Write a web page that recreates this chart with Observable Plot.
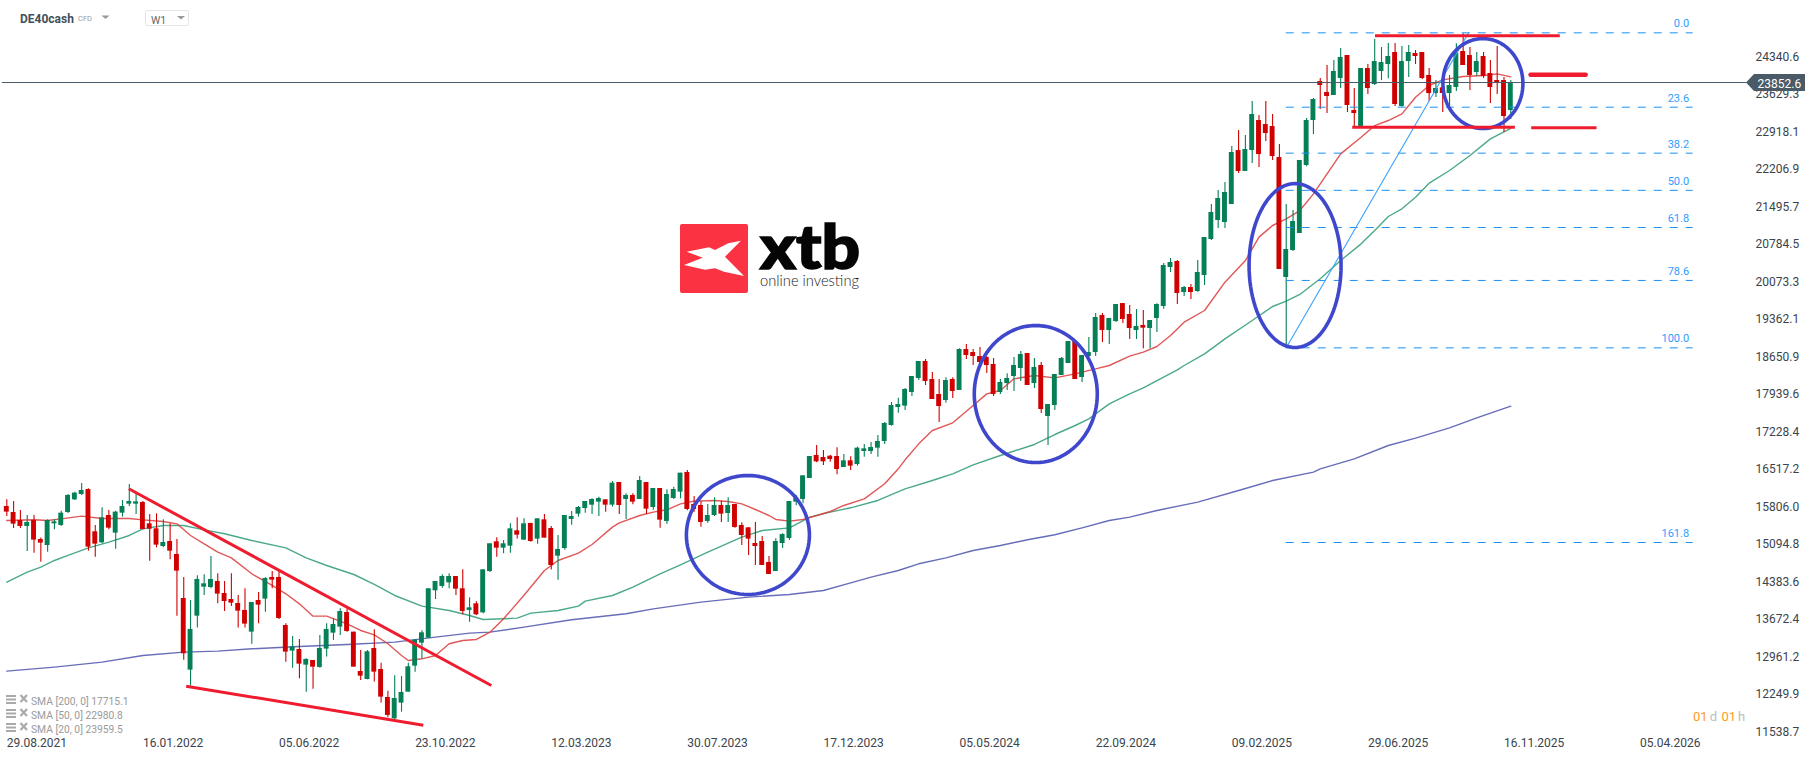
<!DOCTYPE html>
<html>
<head>
<meta charset="utf-8">
<style>html,body{margin:0;padding:0;background:#fff}svg{display:block}</style>
<script src="https://cdn.jsdelivr.net/npm/d3@7"></script>
<script src="https://cdn.jsdelivr.net/npm/@observablehq/plot@0.6"></script>
</head>
<body>
<div id="chart"></div>
<script>
const highs=[15938,15907,15736,15641,15641,15212,15559,15559,15723,16040,16084,16248,16147,15452,15787,15736,15723,15926,16229,16084,
15907,15660,15673,15559,15483,15186,14466,14029,14497,14516,14864,14535,14390,14535,14124,14251,13991,14181,14459,14579,
14586,13587,13347,13290,12923,12892,13366,13587,13682,13871,13871,13429,13081,13081,13473,12841,12310,12601,12588,12841,
13290,13454,14251,14390,14516,14535,14484,14611,14080,14004,14611,15104,15218,15167,15483,15597,15578,15496,15578,15660,
15433,15262,15641,15717,15812,15907,15957,15989,15938,16286,16267,16052,16052,16381,16267,16153,16153,16128,16179,16444,
16495,16002,15913,15850,15976,15913,15976,15850,15502,15407,15509,15243,14864,15199,15294,15907,16021,16393,16760,16969,
16874,16779,16924,16798,16754,16937,16988,17026,17158,17405,17784,17866,18050,18277,18562,18600,18353,18220,18252,18252,
18802,18884,18789,18827,18656,18619,18220,18328,18637,18751,18713,18619,18543,17746,18315,18637,18941,18941,18675,19017,
19472,19472,19377,19643,19661,19624,19548,19529,19339,19656,20420,20515,20477,19984,20022,20477,20913,21539,21805,21956,
22639,22942,22848,23492,23227,23492,23246,22677,21539,21425,22374,23170,23549,23929,24175,24270,24498,24365,23739,24119,
24194,24668,24517,24593,24593,24536,24555,24460,24422,24119,23891,23891,23986,24586,24776,24517,24422,24422,24270,24536,
23948,23891];
const opens=[15812,15698,15546,15433,15546,15186,15072,15483,15452,15698,15938,16040,16134,15332,15123,15641,15306,15685,15856,15856,
15888,15483,15388,15053,15148,14902,14067,12708,13732,14282,14276,14390,14162,14048,13972,13840,13429,14029,14055,14466,
14466,13555,13069,13100,12803,12892,12759,13107,13410,13524,13802,13429,12683,12531,13119,12721,12190,11785,12083,12291,
12784,13220,13315,14213,14295,14364,14484,14251,13840,13966,13795,14579,15142,15022,15060,15351,15174,15489,15193,15559,
15395,14870,15015,15566,15667,15774,15837,15894,15938,15837,16267,15945,16021,15945,16267,15793,16153,15528,15964,16084,
16457,15850,15831,15528,15641,15831,15679,15850,15452,15407,15110,15148,14750,14579,15110,15205,15894,15945,16343,16779,
16741,16766,16760,16551,16678,16608,16855,16855,16918,17045,17348,17689,17715,17974,18239,18562,18220,17936,17822,18220,
18012,18789,18732,18656,18637,18505,17974,18144,18277,18429,18713,18144,18486,17519,17727,18296,18524,18941,18258,18656,
18732,19434,19149,19320,19661,19453,19149,19245,19188,19377,19605,20344,20458,19870,19965,19889,20193,20875,21236,21198,
21539,22563,22165,22563,23132,23056,23018,22430,20155,20667,20989,22279,23132,23872,23663,23607,23929,24365,23322,23019,
24119,23815,24062,24194,24422,23398,24251,24403,24422,23986,23644,23752,23644,23758,24441,24365,24043,24346,24024,23891,
23891,23322];
const closes=[15705,15477,15433,15509,15174,15117,15546,15521,15685,16021,16065,16115,15041,15098,15597,15401,15705,15812,15907,15900,
15376,15382,15079,15129,14965,14586,13018,13480,14428,14345,14428,14150,14010,13979,13827,13581,13991,13941,14447,14415,
13688,13050,13151,12822,12911,12765,13119,13480,13574,13821,13442,12765,12594,13056,12670,12196,11849,12171,12285,12772,
13277,13416,14251,14390,14484,14484,14244,13821,13890,13758,14611,15104,15022,15104,15388,15268,15483,15148,15578,15212,
14693,14997,15641,15622,15793,15907,15945,15964,15837,16254,15831,16021,15894,16305,15761,16153,15553,16040,16134,16444,
15755,15755,15509,15641,15831,15667,15831,15414,15262,15193,15053,14693,14523,15148,15281,15907,15976,16393,16760,16659,
16659,16703,16514,16678,16577,16918,16905,16931,17045,17386,17727,17746,18031,18277,18562,18182,17841,17708,18201,17993,
18789,18675,18656,18543,18486,17936,18163,18239,18486,18694,18107,18448,17651,17746,18315,18619,18941,18220,18675,18732,
19396,19149,19377,19643,19358,19187,19225,19194,19339,19643,20382,20439,19851,19965,19870,20250,20913,21387,21653,21767,
22525,22165,22582,23246,22487,22886,22449,20307,20686,21217,22374,23132,23530,23796,23588,24062,24327,23417,23265,24119,
23739,24251,24232,24346,23436,24251,24422,24346,23929,23644,23739,23644,23796,24403,24175,23986,24251,23967,23758,23853,
23208,23852.6];
const lows=[15622,15395,15395,14959,14927,14756,14946,15369,15433,15679,15926,16021,14965,14851,15104,15369,15003,15610,15812,15660,
15369,14775,15028,15028,14801,13732,12898,12405,13505,14124,14251,13966,13821,13916,13505,13505,13201,13587,13808,14251,
13669,12860,12746,12544,12291,12348,12746,12955,13271,13366,13429,12765,12512,12525,12481,12083,11805,11754,11912,12291,
12670,12923,13315,14048,14263,14251,14124,13758,13618,13745,13777,14560,14851,14914,14927,15193,15167,15136,15098,15212,
14605,14415,14984,15458,15610,15685,15660,15622,15705,15799,15660,15566,15843,15945,15660,15742,15401,15477,15945,15957,
15730,15705,15420,15496,15622,15509,15509,15401,15072,14883,14693,14693,14523,14579,15015,15167,15825,15862,16343,16640,
16589,16653,16412,16551,16495,16577,16748,16798,16748,16988,17335,17582,17632,17898,18201,18107,17841,17405,17771,17860,
18012,18600,18486,18486,18334,17898,17936,18012,17993,18182,18107,18050,17576,16969,17632,18296,18524,18220,18163,18644,
18656,18922,18884,19301,19282,18979,18979,18802,18802,19112,19554,20250,19643,19795,19738,19870,20003,20857,21084,21084,
21539,22127,22165,22317,22241,22734,22374,20307,18821,20648,20989,22253,22867,23341,23265,23607,23739,23284,23019,23019,
23625,23796,23891,23923,23398,23385,23948,24194,23910,23493,23569,23284,23398,23682,24175,23701,23967,23929,23455,23625,
22905,23151];

const sma20Weeks=[0,4,6,8,11,14,18,20,23,25,27,29,31,33,36,39,41,43,45,47,50,52,54,56,58,59,61,63,65,67,69,71,73,76,79,81,84,86,89,90,93,95,97,99,101,104,106,108,110,112,113,115,117,119,121,123,126,129,131,132,134,136,139,142,144,146,148,151,154,157,160,162,165,167,169,171,173,176,179,182,184,186,188,190,192,194,196,199,201,203,205,207,209,211,214,217,219,221];
const sma20Values=[15546,15559,15546,15578,15629,15584,15584,15559,15528,15483,15262,15104,14946,14838,14535,14314,14156,13966,13732,13732,13587,13460,13378,13208,12986,12892,12923,12986,13208,13271,13290,13429,13682,14130,14598,14788,14927,15091,15420,15502,15641,15705,15749,15862,15913,15926,15907,15862,15755,15641,15566,15534,15566,15641,15717,15831,15957,16242,16526,16697,17000,17253,17399,17727,17948,18012,18233,18296,18252,18328,18423,18486,18663,18739,18846,19055,19308,19529,20066,20477,20920,21141,21267,21425,21741,22121,22500,22816,23037,23132,23258,23574,23796,23903,23966,23985,24017,23959.5];
const sma50Weeks=[0,3,5,7,9,12,15,18,20,23,26,29,32,36,41,44,47,51,54,57,61,65,68,70,75,77,81,84,85,89,92,96,99,103,108,111,115,118,121,124,128,132,136,139,142,146,151,154,157,159,162,165,167,172,173,176,179,183,186,188,190,193,196,199,201,203,205,207,209,212,215,218,221];
const sma50Values=[14377,14567,14661,14788,14883,15028,15136,15262,15388,15452,15452,15369,15294,15167,15028,14838,14693,14522,14333,14124,13922,13840,13745,13669,13694,13789,13840,13922,14017,14124,14282,14535,14706,14946,15230,15357,15407,15610,15704,15787,15926,16147,16305,16431,16602,16779,16988,17177,17348,17474,17759,17948,18062,18404,18486,18707,18992,19339,19605,19706,19833,20130,20477,20793,21046,21312,21457,21678,21944,22184,22468,22784,22980.8];
const sma200Weeks=[0,7,14,20,26,31,36,43,50,57,63,68,71,76,83,91,95,102,109,115,120,124,127,131,134,138,142,146,150,154,158,162,165,169,175,181,186,192,193,198,203,207,212,216,221];
const sma200Values=[12689,12765,12860,12986,13050,13069,13113,13157,13195,13239,13334,13410,13429,13524,13663,13777,13871,13998,14093,14143,14219,14364,14472,14598,14725,14838,14977,15072,15180,15275,15407,15546,15610,15736,15894,16115,16305,16463,16526,16716,16969,17108,17304,17493,17715.1];

const priceTicks=[24340.6,23629.3,22918.1,22206.9,21495.7,20784.5,20073.3,19362.1,18650.9,17939.6,17228.4,16517.2,15806.0,15094.8,14383.6,13672.4,12961.2,12249.9,11538.7];
const dateWeeks=[0,20,40,60,80,100,120,140,160,180,200,220,240];
const dateLabels=["29.08.2021","16.01.2022","05.06.2022","23.10.2022","12.03.2023","30.07.2023","17.12.2023","05.05.2024","22.09.2024","09.02.2025","29.06.2025","16.11.2025","05.04.2026"];
const lastPrice=23852.6;
const fibLabels=["0.0","23.6","38.2","50.0","61.8","78.6","100.0","161.8"];
const fibPrices=[24795,23385,22513,21808,21103,20099,18821,15129];
const redThin=[[17.93,16147.6,71.2,12417.6],[26.36,12404,61.2,11664],[201.05,24738,228.2,24738],[197.7,23005,221.6,23005],[224.0,22993.6,233.6,22993.6]];
const redThick=[[223.9,23998.6,232.0,23998.6]];
const fibDiagonal=[[188,18821],[214.8,24795]];
const ellipses=[[108.9,15271.5,9.04,1128],[151.2,17945,9.04,1299],[189.3,20382,6.76,1555],[216.9,23833.6,5.88,853]];
const legendRows=["SMA [200, 0] 17715.1","SMA [50, 0] 22980.8","SMA [20, 0] 23959.5"];

[opens,closes,lows].forEach(a=>{if(a.length!==highs.length)throw new Error("length "+a.length+" vs "+highs.length)});

const candles=highs.map((h,i)=>({week:i,high:h,low:lows[i],open:opens[i],close:closes[i],up:closes[i]>=opens[i]}));
const toPts=(w,v)=>w.map((d,i)=>({week:d,price:v[i]}));
const segs=a=>a.map(([x1,y1,x2,y2])=>({x1,y1,x2,y2}));
const fibRows=fibPrices.map((p,i)=>({price:p,label:fibLabels[i]}));
const ellipsePts=ellipses.flatMap(([cx,cy,rx,ry],id)=>d3.range(0,97).map(k=>{
  const t=k/96*2*Math.PI;return {id,week:cx+rx*Math.cos(t),price:cy+ry*Math.sin(t)};}));

const GREEN="#047f56",RED="#d00000",TREND="#ee1c2e",FIB="#1e90f0",INK="#3a444d",LINE="#4a5a66";

function chrome(){
  const g=d3.create("svg:g").attr("font-family","Roboto").attr("text-anchor","start");
  const t=(x,y,s,size,fill,weight)=>g.append("text").attr("x",x).attr("y",y).attr("font-size",size).attr("fill",fill).attr("font-weight",weight||400).text(s);
  // header
  t(20,23,"DE40cash",12,"#3f505c",700);
  t(78,21,"CFD",7.5,"#9a9a9a");
  g.append("path").attr("d","M101.5 15.5h8l-4 3.5z").attr("fill","#999");
  g.append("rect").attr("x",145.5).attr("y",10.5).attr("width",43).attr("height",15).attr("rx",2).attr("fill","#fff").attr("stroke","#e4e4e4");
  t(151,24,"W1",10.5,"#666");
  g.append("path").attr("d","M177 16h8l-4 3.5z").attr("fill","#999");
  // last price badge
  g.append("path").attr("d","M1746 82.5L1754 74H1805V91H1754Z").attr("fill","#4a5a66");
  t(1757.5,87.5,"23852.6",12,"#fff");
  // logo
  g.append("rect").attr("x",680).attr("y",224).attr("width",68).attr("height",69).attr("rx",2).attr("fill","#fa3241");
  g.append("path").attr("d","M741 240.7L725 256.7L744 276L724 271.7L715 268.3L705 269.7L684 265L702.7 257.7L686.7 251.7L709 247.3L715 250L728.3 243.3Z").attr("fill","#fff");
  g.append("text").attr("x",760).attr("y",269).attr("font-family","Lato").attr("font-size",60).attr("font-weight",900).attr("fill","#050505").attr("stroke","#050505").attr("stroke-width",1.6).attr("textLength",100).attr("lengthAdjust","spacingAndGlyphs").text("xtb");
  g.append("text").attr("x",760).attr("y",286).attr("font-family","Lato").attr("font-size",15).attr("font-weight",300).attr("fill","#1a1a1a").attr("textLength",99).attr("lengthAdjust","spacingAndGlyphs").text("online investing");
  // legend
  legendRows.forEach((s,i)=>{
    const y=i*14-1;
    [696,699.5,703].forEach(v=>g.append("rect").attr("x",6).attr("y",v+y).attr("width",10).attr("height",2).attr("fill","#aaa"));
    g.append("path").attr("d",`M20.5 ${696+y}L27 ${703+y}M27 ${696+y}L20.5 ${703+y}`).attr("stroke","#aaa").attr("stroke-width",2.2);
    t(31,705.5+y,s,10.3,"#9a9a9a");
  });
  // countdown
  const c=g.append("text").attr("x",1693).attr("y",721).attr("font-size",13);
  c.append("tspan").attr("fill","#ff9a1f").text("01");
  c.append("tspan").attr("fill","#bdbdbd").attr("dx",2).text("d");
  c.append("tspan").attr("fill","#ff9a1f").attr("dx",4.5).text("01");
  c.append("tspan").attr("fill","#bdbdbd").attr("dx",2).text("h");
  return g.node();
}

const chart=Plot.plot({
  width:1815,height:761,
  marginTop:0,marginLeft:0,marginRight:60,marginBottom:23,
  style:{fontFamily:"Roboto",background:"#fff",overflow:"visible"},
  x:{domain:[0,221],range:[6.3,1510.3],axis:null},
  y:{domain:[11538.7,24340.6],range:[731.3,56.3],axis:null},
  marks:[
    Plot.line(toPts(sma200Weeks,sma200Values),{x:"week",y:"price",stroke:"#4c54ad",strokeWidth:1.4,strokeOpacity:.85}),
    Plot.line(toPts(sma50Weeks,sma50Values),{x:"week",y:"price",stroke:"#2b9a74",strokeWidth:1.4,strokeOpacity:.85}),
    Plot.line(toPts(sma20Weeks,sma20Values),{x:"week",y:"price",stroke:"#dc3a3a",strokeWidth:1.4,strokeOpacity:.85}),
    Plot.ruleX(candles,{x:"week",y1:"low",y2:"high",stroke:d=>d.up?GREEN:RED,strokeWidth:1.1}),
    Plot.rect(candles,{x1:d=>d.week-.36,x2:d=>d.week+.36,y1:"open",y2:"close",fill:d=>d.up?GREEN:RED}),
    Plot.ruleY([lastPrice],{x1:-0.65,x2:255.7,stroke:LINE,strokeWidth:1}),
    Plot.ruleY(fibRows,{y:"price",x1:188,x2:247.8,stroke:FIB,strokeWidth:1,strokeDasharray:"8 8"}),
    Plot.text(fibRows,{x:247.2,y:"price",text:"label",textAnchor:"end",dy:-9,fill:"#2f9dff",fontSize:11}),
    Plot.line(fibDiagonal,{x:"0",y:"1",stroke:"#3aa2ff",strokeWidth:1.1}),
    Plot.line(ellipsePts,{x:"week",y:"price",z:"id",stroke:"#3f48cc",strokeWidth:3.6}),
    Plot.link(segs(redThin),{x1:"x1",y1:"y1",x2:"x2",y2:"y2",stroke:TREND,strokeWidth:3}),
    Plot.link(segs(redThick),{x1:"x1",y1:"y1",x2:"x2",y2:"y2",stroke:TREND,strokeWidth:4.5,strokeLinecap:"round"}),
    Plot.axisX(dateWeeks,{anchor:"bottom",tickSize:0,tickPadding:0,label:null,tickFormat:d=>dateLabels[d/20],textAnchor:"start",fontSize:12,fill:INK}),
    Plot.axisY(priceTicks,{anchor:"right",tickSize:0,tickPadding:0,label:null,tickFormat:d=>d.toFixed(1),fontSize:12,fill:INK}),
    chrome
  ]
});
document.getElementById("chart").append(chart);
</script>
</body>
</html>
